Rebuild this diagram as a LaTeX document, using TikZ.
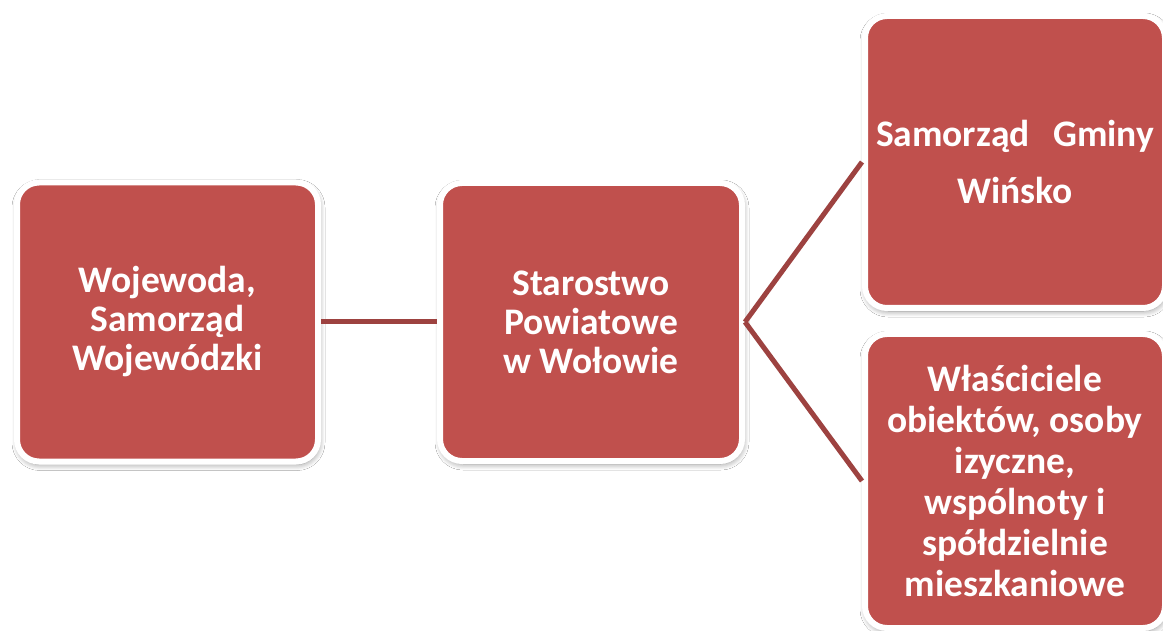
\documentclass[tikz,border=0pt]{standalone}
\usepackage{fontspec}
\setmainfont{Carlito}
\usetikzlibrary{shadows.blur}
\definecolor{boxred}{RGB}{192,80,77}
\definecolor{linered}{RGB}{157,66,64}
\tikzset{
  org/.style={draw=white, line width=6pt, fill=boxred, rounded corners=22pt,
    blur shadow={shadow xshift=1pt, shadow yshift=-3pt, shadow blur steps=8, shadow blur radius=6pt, shadow opacity=45},
    text=white, align=center, font=\fontsize{37.5}{39}\selectfont\bfseries},
  link/.style={draw=linered, line width=5pt}
}
\begin{document}
\begin{tikzpicture}[x=1pt, y=-1pt]
      % page frame
      \clip (0,0) rectangle (1163,631);
      \fill[white] (0,0) rectangle (1163,631);

      % the four offices
      \node[org, minimum width=301pt, minimum height=279pt] (wojewoda) at (167.5,322)
        {Wojewoda,\\Samorząd\\Wojewódzki};
      \node[org, minimum width=302pt, minimum height=278pt] (starostwo) at (591,322)
        {Starostwo\\Powiatowe\\w Wołowie};
      \node[org, minimum width=300pt, minimum height=292pt, font=\fontsize{37.5}{57}\selectfont\bfseries] (gmina) at (1015,162)
        {\makebox[278pt]{Samorząd\hfill Gminy}\\Wińsko};
      \node[org, minimum width=300pt, minimum height=294pt, font=\fontsize{37.5}{41}\selectfont\bfseries] (wlasciciele) at (1015,481)
        {Właściciele\\obiektów, osoby\\izyczne,\\wspólnoty i\\spółdzielnie\\mieszkaniowe};

      % connectors
      \draw[link] (wojewoda.east) -- (starostwo.west);
      \draw[link] (starostwo.east) -- (gmina.west);
      \draw[link] (starostwo.east) -- (wlasciciele.west);
\end{tikzpicture}
\end{document}
